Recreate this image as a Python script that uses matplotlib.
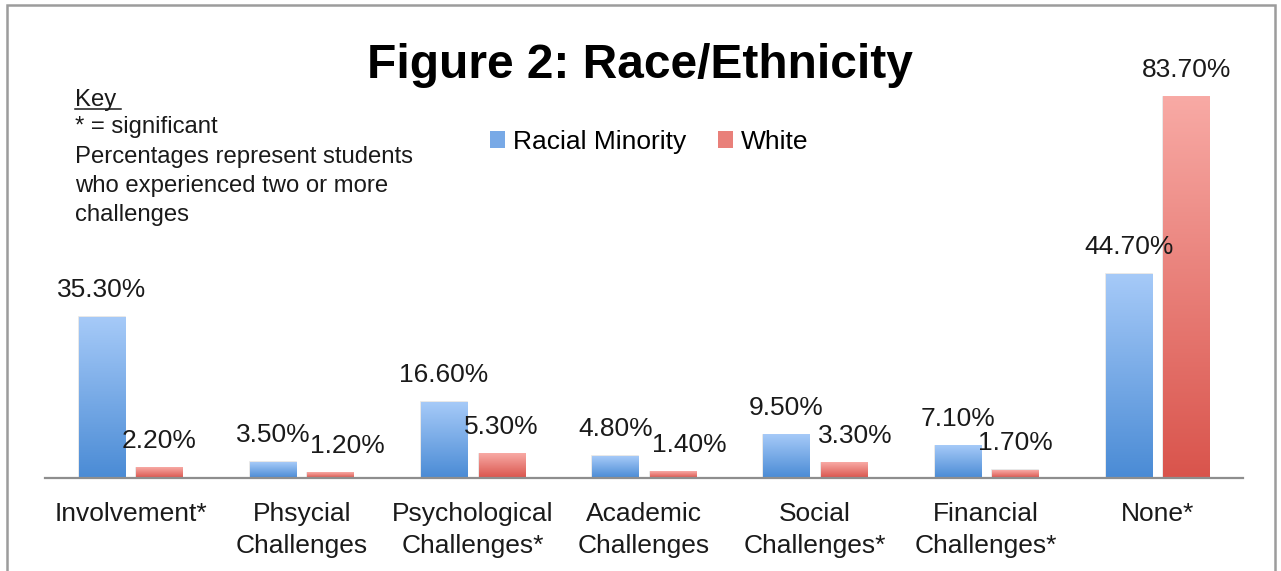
import numpy as np
import matplotlib
matplotlib.use("Agg")
import matplotlib.pyplot as plt
from matplotlib.colors import LinearSegmentedColormap
from matplotlib.patches import Patch, Rectangle
from matplotlib.lines import Line2D

plt.rcParams['font.family'] = ['Liberation Sans', 'DejaVu Sans']

# Datos
categories = ["Involvement*", "Phsycial\nChallenges", "Psychological\nChallenges*",
              "Academic\nChallenges", "Social\nChallenges*", "Financial\nChallenges*", "None*"]
minority = [35.3, 3.5, 16.6, 4.8, 9.5, 7.1, 44.7]
white = [2.2, 1.2, 5.3, 1.4, 3.3, 1.7, 83.7]
series_names = ["Racial Minority", "White"]

key_lines = ["Key", "* = significant", "Percentages represent students",
             "who experienced two or more", "challenges"]

# Colores (claro arriba, oscuro abajo)
blue_top, blue_bot = "#a6caf8", "#4a8bd5"
red_top, red_bot = "#f8aaa5", "#d9544c"

W, H = 1281, 571
fig = plt.figure(figsize=(W / 100, H / 100), dpi=100)
ax = fig.add_axes([45 / W, 1 - 478 / H, 1198 / W, 410 / H])

x = np.arange(len(categories))
bw = 0.269
off = 0.168

grad = np.linspace(1, 0, 256).reshape(-1, 1)

def gradient_bars(vals, xpos, top, bot):
    cmap = LinearSegmentedColormap.from_list("g", [bot, top])
    bars = ax.bar(xpos, vals, bw, color="none", edgecolor="#e4e4e4", linewidth=1.2, zorder=1)
    for b in bars:
        x0 = b.get_x()
        ax.imshow(grad, extent=[x0, x0 + b.get_width(), 0, b.get_height()],
                  cmap=cmap, aspect="auto", origin="upper", zorder=2, interpolation="bilinear")
    return bars

bars_m = gradient_bars(minority, x - off, blue_top, blue_bot)
bars_w = gradient_bars(white, x + off, red_top, red_bot)

# Etiquetas de valores (algunas desplazadas para no chocar)
nudge_w = {1: 12.2, 3: 12.2, 4: 7.9}
for i, v in enumerate(minority):
    ax.annotate(f"{v:.2f}%", (x[i] - off, v), xytext=(0, 14.4), textcoords="offset points",
                ha="center", va="baseline", fontsize=19, color="#1a1a1a")
for i, v in enumerate(white):
    ax.annotate(f"{v:.2f}%", (x[i] + off, v), xytext=(nudge_w.get(i, 0), 14.4),
                textcoords="offset points", ha="center", va="baseline", fontsize=19, color="#1a1a1a")

ax.set_xlim(-0.5, len(categories) - 0.5)
ax.set_ylim(0, 90)
ax.set_xticks(x)
ax.set_xticklabels(categories, fontsize=19, color="#1a1a1a")
for t in ax.get_xticklabels():
    t.set_linespacing(1.42)
ax.tick_params(axis="x", length=0, pad=17)
ax.set_yticks([])
for s in ["top", "right", "left"]:
    ax.spines[s].set_visible(False)
ax.spines["bottom"].set_color("#8e8e8e")
ax.spines["bottom"].set_linewidth(1.6)
ax.spines["bottom"].set_zorder(3)

# Título
fig.text(640 / W, 1 - 78 / H, "Figure 2: Race/Ethnicity", ha="center", va="baseline",
         fontsize=34.5, fontweight="bold", color="black")

# Leyenda
handles = [Patch(facecolor="#78a9e6", edgecolor="none"), Patch(facecolor="#e9807a", edgecolor="none")]
fig.legend(handles, series_names, loc="center", bbox_to_anchor=(649 / W, 1 - 142 / H), ncol=2,
           frameon=False, fontsize=19, handlelength=0.58, handleheight=0.58, handletextpad=0.3,
           columnspacing=1.2)

# Clave
baselines = [106, 133, 163, 192, 221]
for txt, yb in zip(key_lines, baselines):
    fig.text(75 / W, 1 - yb / H, txt, ha="left", va="baseline", fontsize=17.2, color="#1a1a1a")
fig.add_artist(Line2D([75 / W, 121 / W], [1 - 109 / H, 1 - 109 / H], color="#1a1a1a", lw=1.1))

# Marco
fig.add_artist(Rectangle((7 / W, -0.1), (1275 - 7) / W, 1.1 - 5 / H, transform=fig.transFigure,
                         fill=False, edgecolor="#9c9c9c", linewidth=1.8))

fig.savefig("out.png", dpi=100)
